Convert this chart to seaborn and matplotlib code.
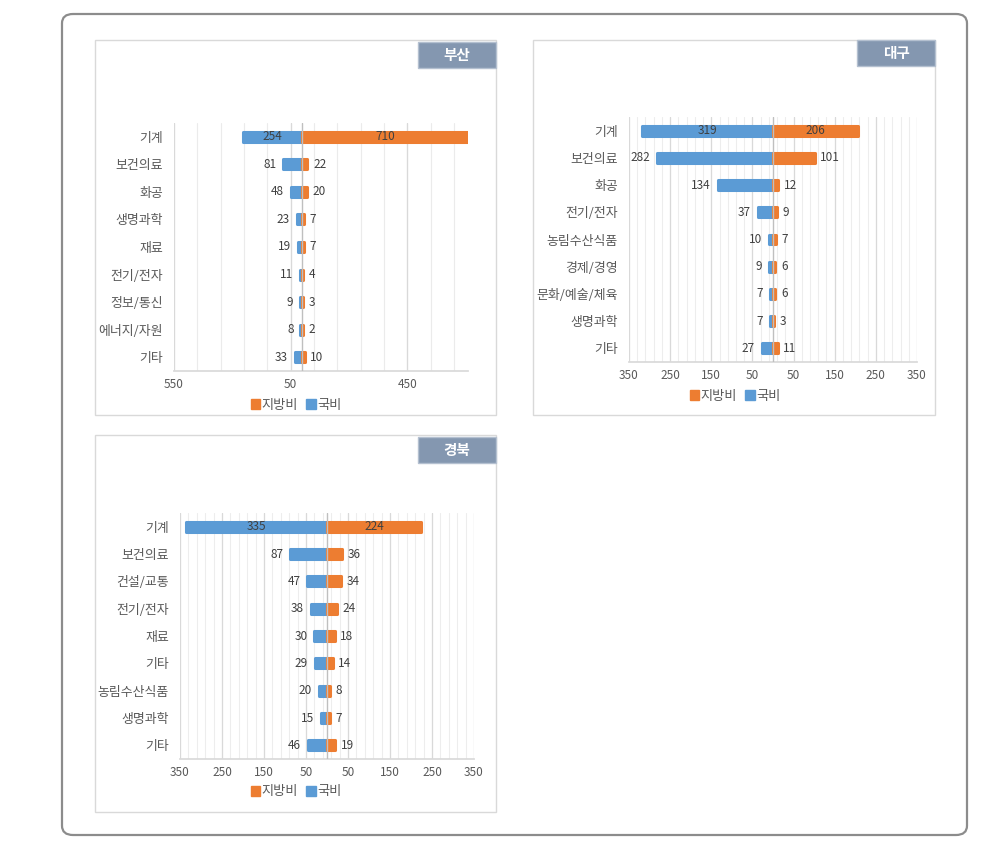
import numpy as np
import pandas as pd
import seaborn as sns
import matplotlib.pyplot as plt
from matplotlib.patches import FancyBboxPatch, Rectangle, Patch

sns.set_theme(style="white")
plt.rcParams['font.family'] = ['Noto Sans CJK KR', 'DejaVu Sans']

# ---------------- data ----------------
busan_cats = ["기계", "보건의료", "화공", "생명과학", "재료", "전기/전자", "정보/통신", "에너지/자원", "기타"]
busan_nat = [254, 81, 48, 23, 19, 11, 9, 8, 33]
busan_loc = [710, 22, 20, 7, 7, 4, 3, 2, 10]

daegu_cats = ["기계", "보건의료", "화공", "전기/전자", "농림수산식품", "경제/경영", "문화/예술/체육", "생명과학", "기타"]
daegu_nat = [319, 282, 134, 37, 10, 9, 7, 7, 27]
daegu_loc = [206, 101, 12, 9, 7, 6, 6, 3, 11]

gb_cats = ["기계", "보건의료", "건설/교통", "전기/전자", "재료", "기타", "농림수산식품", "생명과학", "기타"]
gb_nat = [335, 87, 47, 38, 30, 29, 20, 15, 46]
gb_loc = [224, 36, 34, 24, 18, 14, 8, 7, 19]

busan_ticks = [-550, -50, 450]
busan_tick_labels = ["550", "50", "450"]
dg_ticks = [-350, -250, -150, -50, 50, 150, 250, 350]
dg_tick_labels = ["350", "250", "150", "50", "50", "150", "250", "350"]

LOCAL = "지방비"
NATIONAL = "국비"

ORANGE = "#ED7D31"
BLUE = "#5B9BD5"
TXT = "#595959"
LBL = "#404040"

W, H = 1005, 843
fig = plt.figure(figsize=(W / 100, H / 100), dpi=100)


def fx(x):
    return x / W


def fy(y):
    return 1 - y / H


# outer rounded frame
fig.patches.append(FancyBboxPatch((fx(62), fy(835)), fx(967) - fx(62), fy(14) - fy(835),
                                  boxstyle="round,pad=0,rounding_size=0.011",
                                  transform=fig.transFigure, fill=False,
                                  edgecolor="#8C8C8C", linewidth=1.6))


def panel_box(x0, y0, x1, y1):
    fig.patches.append(Rectangle((fx(x0), fy(y1)), fx(x1) - fx(x0), fy(y0) - fy(y1),
                                 transform=fig.transFigure, fill=False,
                                 edgecolor="#D9D9D9", linewidth=1.0))


def title_tab(x0, y0, x1, y1, text):
    fig.patches.append(Rectangle((fx(x0), fy(y1)), fx(x1) - fx(x0), fy(y0) - fy(y1),
                                 transform=fig.transFigure, facecolor="#8497B0",
                                 edgecolor="#B4C0D0", linewidth=1.0))
    fig.text((fx(x0) + fx(x1)) / 2, (fy(y0) + fy(y1)) / 2, text, color="white",
             fontsize=10.5, fontweight="bold", ha="center", va="center")


def draw_panel(rect, cats, nat, loc, xlim, major, minor, ticks, tlabels, legend_xy, minor_color):
    x0, y0, x1, y1 = rect
    ax = fig.add_axes([fx(x0), fy(y1), fx(x1) - fx(x0), fy(y0) - fy(y1)])
    n = len(cats)
    rows = [str(i) for i in range(n)]
    df = pd.DataFrame({
        "row": rows * 2,
        "value": [-v for v in nat] + list(loc),
        "series": [NATIONAL] * n + [LOCAL] * n,
    })
    sns.barplot(data=df, x="value", y="row", hue="series", order=rows,
                hue_order=[NATIONAL, LOCAL], palette=[BLUE, ORANGE],
                dodge=False, orient="h", width=0.36, ax=ax, legend=False,
                linewidth=0, saturation=1)
    # Excel-like rounded thick outline in the same colour
    for p in ax.patches:
        p.set_edgecolor(p.get_facecolor())
        p.set_linewidth(2.2)
        p.set_joinstyle("round")
        p.set_zorder(2)
    ax.set_xlim(*xlim)
    ax.set_ylim(n - 0.5, -0.5)
    # gridlines
    for g in minor:
        ax.axvline(g, color=minor_color, linewidth=0.8, zorder=0)
    for g in major:
        ax.axvline(g, color="#D9D9D9", linewidth=0.9, zorder=0)
    ax.axvline(0, color="#BFBFBF", linewidth=1.0, zorder=3)
    ax.set_xticks(ticks)
    ax.set_xticklabels(tlabels, color=TXT, fontsize=8.5)
    ax.set_yticks(range(n))
    ax.set_yticklabels(cats, color=TXT, fontsize=9.3)
    ax.tick_params(axis="y", length=0, pad=8)
    ax.tick_params(axis="x", length=0, pad=5)
    ax.set_xlabel("")
    ax.set_ylabel("")
    for s in ["top", "right", "left"]:
        ax.spines[s].set_visible(False)
    ax.spines["bottom"].set_color("#D9D9D9")
    ax.set_facecolor("none")
    # data labels
    for i in range(n):
        if i == 0:
            ax.text(-nat[i] / 2, i, str(nat[i]), ha="center", va="center", fontsize=8.5, color=LBL, zorder=4)
            ax.text(loc[i] / 2, i, str(loc[i]), ha="center", va="center", fontsize=8.5, color=LBL, zorder=4)
        else:
            ax.annotate(str(nat[i]), (-nat[i], i), xytext=(-5, 0), textcoords="offset points",
                        ha="right", va="center", fontsize=8.5, color=LBL)
            ax.annotate(str(loc[i]), (loc[i], i), xytext=(4, 0), textcoords="offset points",
                        ha="left", va="center", fontsize=8.5, color=LBL)
    handles = [Patch(facecolor=ORANGE, edgecolor=ORANGE, label=LOCAL),
               Patch(facecolor=BLUE, edgecolor=BLUE, label=NATIONAL)]
    fig.legend(handles=handles, loc="center", bbox_to_anchor=(fx(legend_xy[0]), fy(legend_xy[1])),
               ncol=2, frameon=False, fontsize=9.5, handlelength=0.75, handleheight=0.75,
               handletextpad=0.1, columnspacing=0.6, labelcolor=TXT)
    return ax


# Busan
panel_box(95, 40, 496, 415)
title_tab(418, 42, 496, 68, "부산")
draw_panel((174, 123, 468, 371), busan_cats, busan_nat, busan_loc, (-550, 710),
           [-550, -50, 450], list(range(-550, 700, 100)), busan_ticks, busan_tick_labels,
           (296, 405), "#EBEBEB")

# Daegu
panel_box(533, 40, 935, 415)
title_tab(857, 40, 935, 66, "대구")
draw_panel((629, 117, 917, 362), daegu_cats, daegu_nat, daegu_loc, (-350, 350),
           list(range(-350, 351, 100)), list(range(-350, 351, 20)), dg_ticks, dg_tick_labels,
           (735, 396), "#EDEDED")

# Gyeongbuk
panel_box(95, 435, 496, 812)
title_tab(418, 437, 496, 463, "경북")
draw_panel((180, 513, 474, 759), gb_cats, gb_nat, gb_loc, (-350, 350),
           list(range(-350, 351, 100)), list(range(-350, 351, 20)), dg_ticks, dg_tick_labels,
           (296, 792), "#EDEDED")

fig.savefig("out.png", dpi=100, facecolor="white")
